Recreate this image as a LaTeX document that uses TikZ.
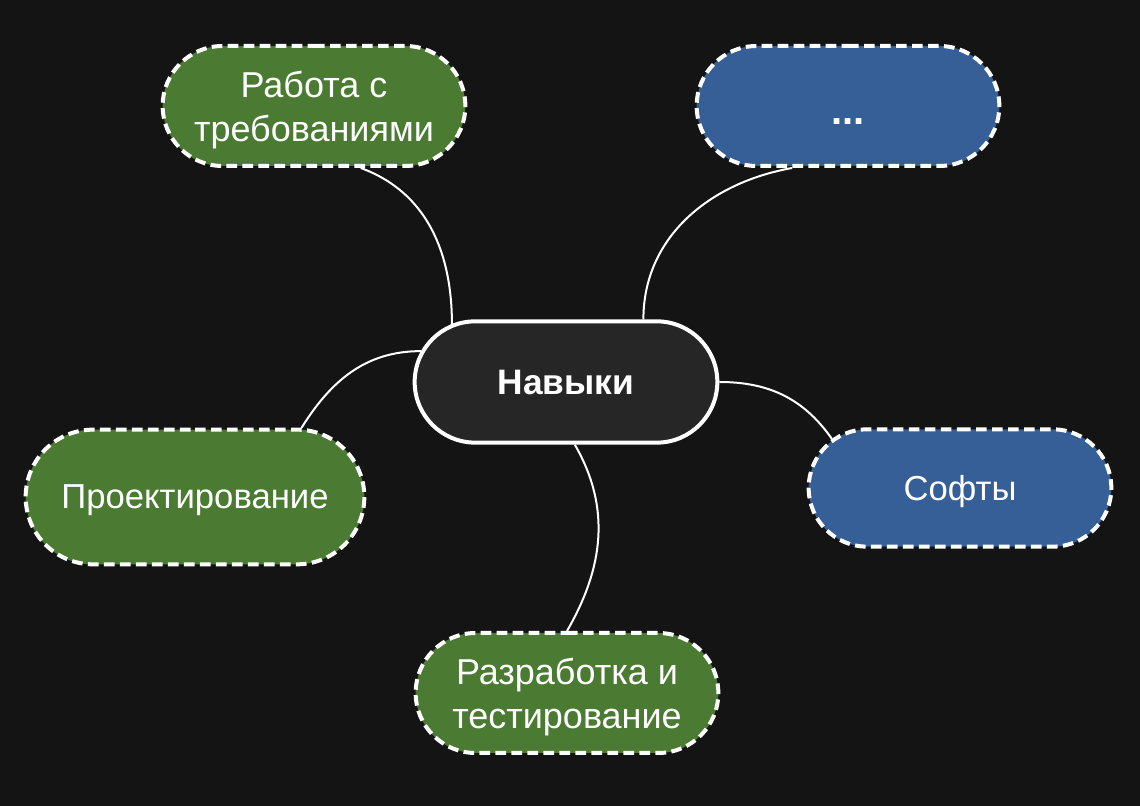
\documentclass[tikz,border=0pt]{standalone}
\usepackage{fontspec}
\setmainfont{Liberation Sans}
\usetikzlibrary{shapes.misc}
\definecolor{bgdark}{HTML}{141414}
\definecolor{hubgray}{HTML}{262626}
\definecolor{leafgreen}{HTML}{4B7B32}
\definecolor{leafblue}{HTML}{355F96}
\begin{document}
\begin{tikzpicture}[x=0.75pt,y=0.75pt,every node/.style={rounded rectangle,draw=white,text=white,align=center,font=\fontsize{27}{33}\selectfont,text depth=0pt,minimum width=231pt,minimum height=90pt,inner sep=2pt}]
        \tikzset{edge/.style = {draw=white,line width=1.5pt}, leaf/.style = {line width=3pt,dash pattern=on 8pt off 4pt}}
        \fill[bgdark] (0,0) rectangle (1140,806);

        \node[fill=hubgray,line width=3pt,minimum height=91pt,font=\bfseries\fontsize{26.5}{33}\selectfont] (nav) at (566,424) {Навыки};

        \node[leaf,fill=leafgreen] (req) at (314,700) {Работа с\\требованиями};
        \node[leaf,fill=leafblue,font=\bfseries\fontsize{30}{33}\selectfont] (dots) at (848,700) {\raisebox{-14pt}[0pt][0pt]{...}};
        \node[leaf,fill=leafgreen,minimum width=258pt,minimum height=101pt,font=\fontsize{26}{30}\selectfont] (design) at (195,309) {Проектирование};
        \node[leaf,fill=leafblue,minimum height=88pt,font=\fontsize{26}{33}\selectfont] (soft) at (960,318) {Софты};
        \node[leaf,fill=leafgreen] (dev) at (567,113) {Разработка и\\тестирование};

        \draw[edge] (req.-53) to[out=-20,in=90] (nav.153);
        \draw[edge] (dots.228) to[out=190,in=90] (nav.39);
        \draw[edge] (nav.168) to[out=180,in=58] (design.33);
        \draw[edge] (nav.east) to[out=0,in=125] (soft.159);
        \draw[edge] (nav.-82) to[out=-60,in=60] (dev.north);
\end{tikzpicture}
\end{document}
